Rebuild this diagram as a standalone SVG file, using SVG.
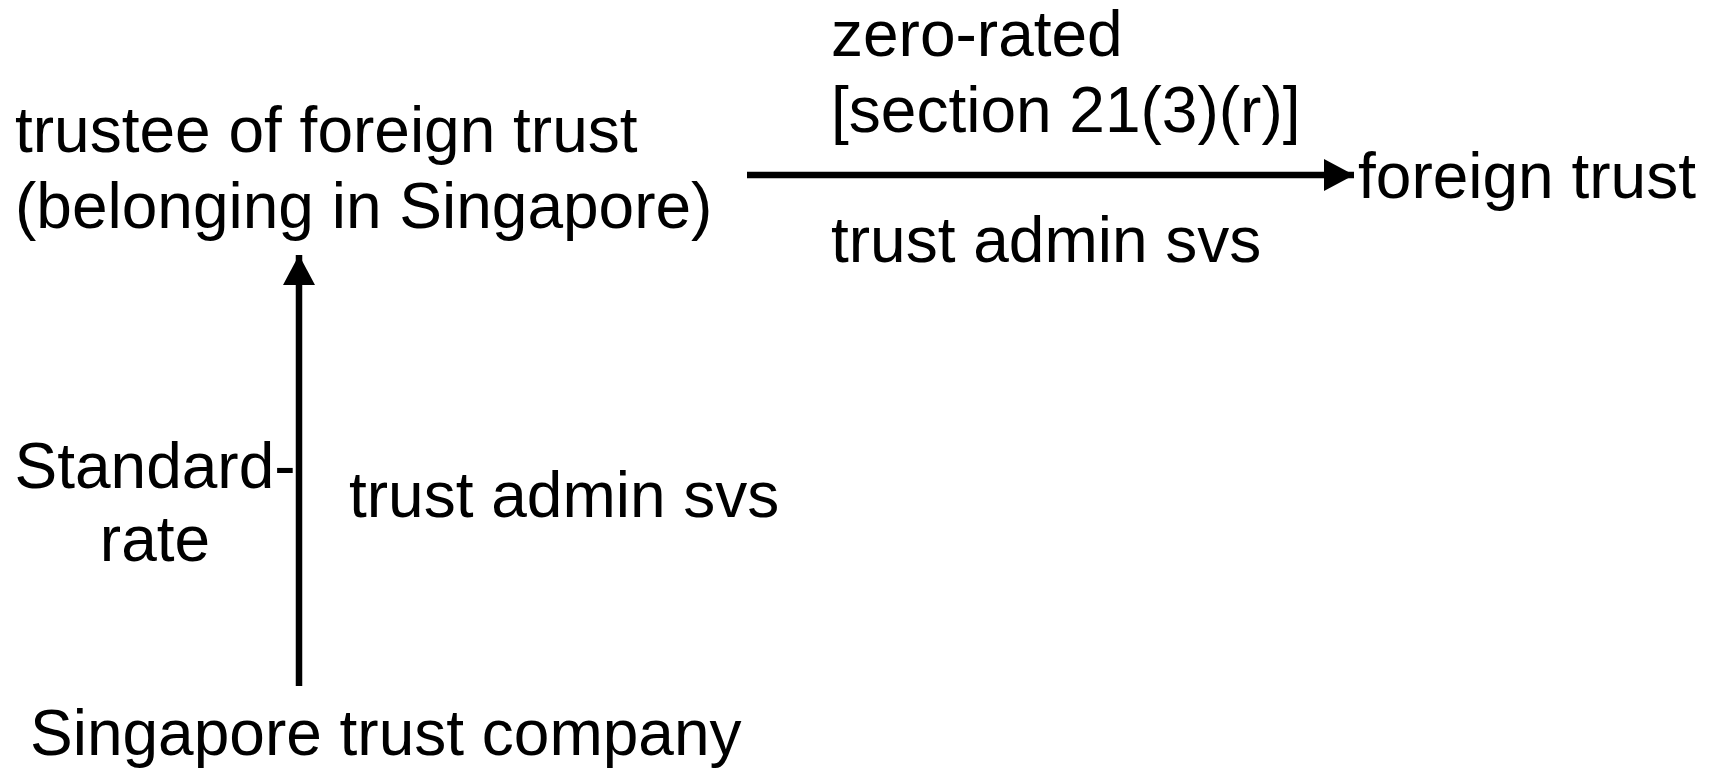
<svg xmlns="http://www.w3.org/2000/svg" width="1712" height="771" viewBox="0 0 1712 771">
  <style>
    text { font-family: "Liberation Sans", Arial, sans-serif; font-size: 64px; fill: #000; }
    .conn { stroke: #000; stroke-width: 6.5; fill: none; }
  </style>
  <defs>
    <marker id="arrow" markerUnits="userSpaceOnUse" markerWidth="32" markerHeight="36" refX="30" refY="18" orient="auto">
      <path d="M0,2 L30,18 L0,34 Z" fill="#000"/>
    </marker>
  </defs>
  <rect width="1712" height="771" fill="#fff"/>
  <g id="connectors">
    <line class="conn" x1="747" y1="175" x2="1354" y2="175" marker-end="url(#arrow)"/>
    <line class="conn" x1="299" y1="686" x2="299" y2="255" marker-end="url(#arrow)"/>
  </g>
  <g id="node-trustee">
    <text x="15" y="152">trustee of foreign trust</text>
    <text x="15" y="228">(belonging in Singapore)</text>
  </g>
  <g id="node-foreign-trust">
    <text x="1358" y="198">foreign trust</text>
  </g>
  <g id="node-singapore-company">
    <text x="30" y="755">Singapore trust company</text>
  </g>
  <g id="labels-horizontal">
    <text x="831" y="56">zero-rated</text>
    <text x="831" y="132">[section 21(3)(r)]</text>
    <text x="831" y="262">trust admin svs</text>
  </g>
  <g id="labels-vertical">
    <text x="155" y="488" text-anchor="middle">Standard-</text>
    <text x="155" y="561" text-anchor="middle">rate</text>
    <text x="349" y="517">trust admin svs</text>
  </g>
</svg>
